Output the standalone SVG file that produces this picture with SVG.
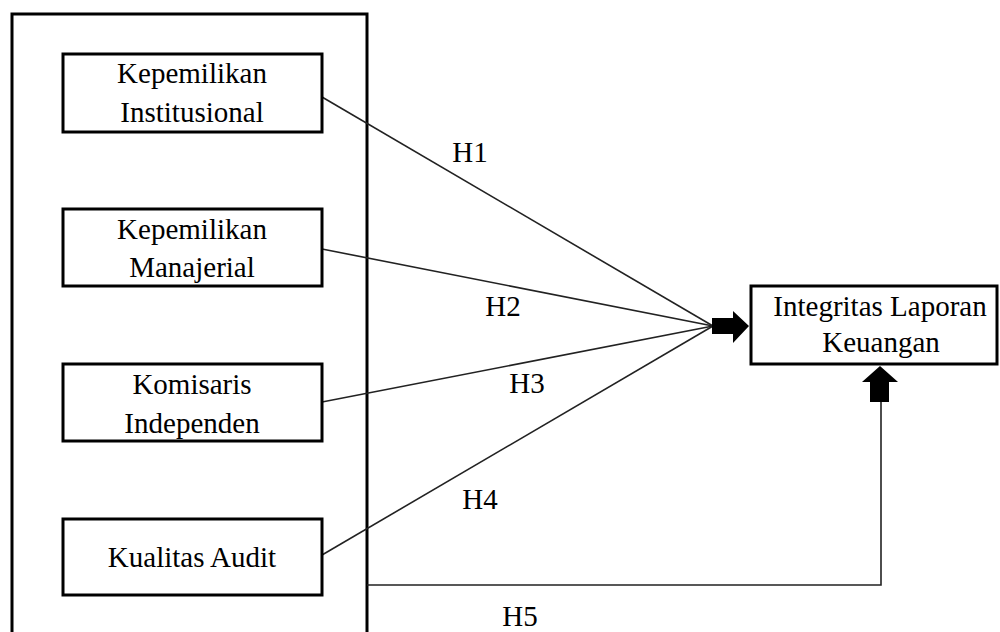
<svg xmlns="http://www.w3.org/2000/svg" width="1000" height="632" viewBox="0 0 1000 632">
<style>
.box{fill:#fff;stroke:#000;stroke-width:3}
.t{font-family:"Liberation Serif","Times New Roman",serif;font-size:29px;fill:#000;text-anchor:middle}
.ln{stroke:#222;stroke-width:1.6;fill:none}
.ar{fill:#000;stroke:none}
</style>
<rect width="1000" height="632" fill="#fff"/>
<g id="frame"><rect class="box" x="12" y="14" width="355" height="640" fill="none"/></g>
<g id="connectors">
<line class="ln" x1="322" y1="97" x2="713" y2="326"/>
<line class="ln" x1="322" y1="249" x2="713" y2="326"/>
<line class="ln" x1="322" y1="402" x2="713" y2="326"/>
<line class="ln" x1="322" y1="555" x2="713" y2="326"/>
<polyline class="ln" points="367,585 881,585 881,400" stroke-width="2.2"/>
<polygon class="ar" points="712,318 733,318 733,311 749,326 733,343 733,334 712,334"/>
<polygon class="ar" points="880,366 898,382 889,382 889,402 870,402 870,382 862,382"/>
<text class="t" x="470" y="162">H1</text>
<text class="t" x="503" y="316">H2</text>
<text class="t" x="527" y="393">H3</text>
<text class="t" x="480" y="509">H4</text>
<text class="t" x="520" y="626">H5</text>
</g>
<g id="n1"><rect class="box" x="63" y="54" width="259" height="78"/>
<text class="t" x="192" y="83">Kepemilikan</text><text class="t" x="192" y="122">Institusional</text></g>
<g id="n2"><rect class="box" x="63" y="209" width="259" height="77"/>
<text class="t" x="192" y="239">Kepemilikan</text><text class="t" x="192" y="277">Manajerial</text></g>
<g id="n3"><rect class="box" x="63" y="364" width="259" height="77"/>
<text class="t" x="192" y="394">Komisaris</text><text class="t" x="192" y="433">Independen</text></g>
<g id="n4"><rect class="box" x="63" y="519" width="259" height="76"/>
<text class="t" x="192" y="567">Kualitas Audit</text></g>
<g id="n5"><rect class="box" x="751" y="286" width="246" height="78"/>
<text class="t" x="880" y="316">Integritas Laporan</text><text class="t" x="881" y="352">Keuangan</text></g>
</svg>
